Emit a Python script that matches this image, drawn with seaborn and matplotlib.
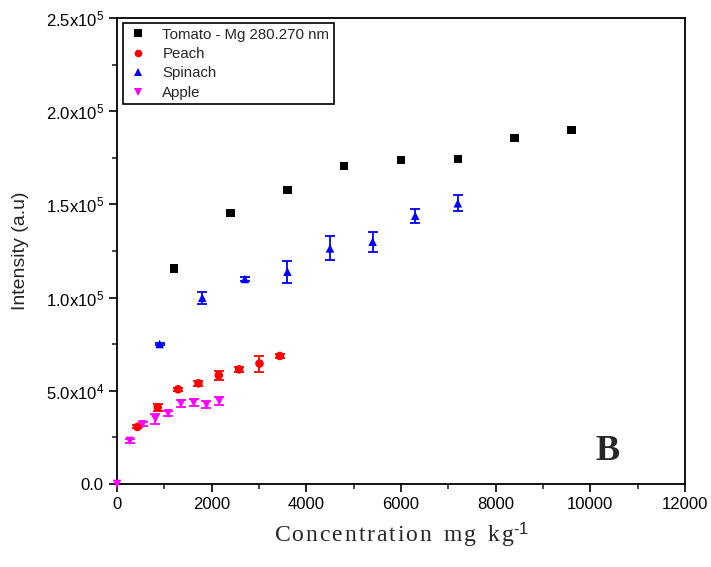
import numpy as np
import pandas as pd
import matplotlib
matplotlib.use("Agg")
import matplotlib.pyplot as plt
import seaborn as sns
from matplotlib.ticker import FuncFormatter, MultipleLocator

# ---- data ----
tomato_x = [1200, 2400, 3600, 4800, 6000, 7200, 8400, 9600]
tomato_y = [115500, 145400, 157700, 170700, 173800, 174300, 185600, 189800]
tomato_err = [0, 0, 0, 0, 0, 0, 0, 0]

peach_x = [430, 860, 1290, 1720, 2150, 2580, 3010, 3440]
peach_y = [30600, 41100, 50800, 54000, 58300, 61500, 64600, 68700]
peach_err = [800, 2000, 900, 1300, 2500, 1300, 4300, 1000]

spinach_x = [900, 1800, 2700, 3600, 4500, 5400, 6300, 7200]
spinach_y = [75100, 99900, 110000, 113900, 126400, 130000, 143900, 150600]
spinach_err = [800, 3100, 900, 5900, 6500, 5400, 3800, 4300]

apple_x = [0, 270, 540, 810, 1080, 1350, 1620, 1890, 2160]
apple_y = [0, 23100, 32000, 34900, 37900, 43100, 43600, 42500, 44500]
apple_err = [0, 1000, 1000, 2500, 1500, 2000, 2000, 2000, 2000]

series_names = ["Tomato - Mg 280.270 nm", "Peach", "Spinach", "Apple"]
colors = ["#000000", "#ff0000", "#0000ff", "#ff00ff"]
markers = ["s", "o", "^", "v"]

xs = [tomato_x, peach_x, spinach_x, apple_x]
ys = [tomato_y, peach_y, spinach_y, apple_y]
errs = [tomato_err, peach_err, spinach_err, apple_err]

rows = []
for name, x, y, e in zip(series_names, xs, ys, errs):
    for xi, yi, ei in zip(x, y, e):
        rows.append({"Concentration": xi, "Intensity": yi, "err": ei, "Sample": name})
df = pd.DataFrame(rows)

sns.set_style("white")
plt.rcParams["font.family"] = ["Liberation Sans", "DejaVu Sans"]
plt.rcParams["mathtext.fontset"] = "custom"
plt.rcParams["mathtext.rm"] = "Liberation Sans"
plt.rcParams["mathtext.default"] = "regular"

fig = plt.figure(figsize=(7.11, 5.67), dpi=100)
ax = fig.add_axes([0.1646, 0.1464, 0.7988, 0.8219])

# error bars
for name, c in zip(series_names, colors):
    sub = df[df["Sample"] == name]
    if sub["err"].sum() > 0:
        ax.errorbar(sub["Concentration"], sub["Intensity"], yerr=sub["err"],
                    fmt="none", ecolor=c, elinewidth=1.3, capsize=3.5,
                    capthick=1.3, zorder=2)

sns.scatterplot(data=df, x="Concentration", y="Intensity", hue="Sample",
                style="Sample", palette=dict(zip(series_names, colors)),
                markers=dict(zip(series_names, markers)),
                hue_order=series_names, style_order=series_names,
                s=38, edgecolor="none", linewidth=0, ax=ax, zorder=3,
                clip_on=False)

ax.set_xlim(0, 12000)
ax.set_ylim(0, 250000)
ax.xaxis.set_major_locator(MultipleLocator(2000))
ax.xaxis.set_minor_locator(MultipleLocator(1000))
ax.yaxis.set_major_locator(MultipleLocator(50000))
ax.yaxis.set_minor_locator(MultipleLocator(25000))


def yfmt(v, pos):
    if v == 0:
        return "0.0"
    exp = int(np.floor(np.log10(abs(v))))
    mant = v / 10 ** exp
    return r"%.1fx10$^{%d}$" % (mant, exp)


ax.yaxis.set_major_formatter(FuncFormatter(yfmt))
ax.tick_params(axis="both", which="major", direction="out", length=6, width=1.2,
               labelsize=12, bottom=True, left=True, top=False, right=False,
               colors="black")
ax.tick_params(axis="both", which="minor", direction="out", length=3.5, width=1.2,
               bottom=True, left=True, top=False, right=False)
for sp in ax.spines.values():
    sp.set_visible(True)
    sp.set_color("black")
    sp.set_linewidth(1.3)

ax.set_ylabel("Intensity (a.u)", fontsize=14, labelpad=12)
hs = "\u200a"
xlabel = hs.join("Concentration") + "  " + hs.join("mg") + "  " + hs.join("kg") + r"$^{\text{-1}}$"
ax.set_xlabel(xlabel, fontsize=17, family=["Liberation Serif", "DejaVu Serif"], labelpad=6)

ax.text(0.863, 0.069, "B", transform=ax.transAxes, fontsize=26,
        fontweight="bold", family=["Liberation Serif"], ha="center", va="center")

handles, labels = ax.get_legend_handles_labels()
for h in handles:
    try:
        h.set_markersize(5.5)
    except Exception:
        pass
leg = ax.legend(handles=handles, labels=labels, loc="upper left",
                bbox_to_anchor=(0.01, 0.989), borderaxespad=0, fontsize=10.8,
                frameon=True, fancybox=False, edgecolor="black", framealpha=1,
                handletextpad=0.85, labelspacing=0.36, borderpad=0.3,
                handlelength=1.5)
leg.get_frame().set_linewidth(1.2)

fig.savefig("out.png", dpi=100)
